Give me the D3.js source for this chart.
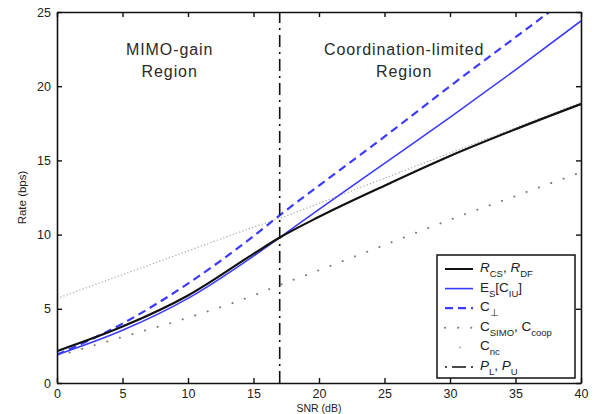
<!DOCTYPE html>
<html>
<head>
<meta charset="utf-8">
<script src="https://cdn.jsdelivr.net/npm/d3@7"></script>
<style>
  body { margin: 0; background: #fff; }
  svg { display: block; font-family: "Liberation Sans", Arial, sans-serif; }
</style>
</head>
<body>
<div id="chart"></div>
<script>
// DATA
const snr = [0, 5, 10, 15, 17, 20, 25, 30, 35, 40];
const rateCS = [2.15, 3.8, 5.9, 8.7, 9.8, 11.2, 13.3, 15.3, 17.1, 18.8];
const rateES = [1.9, 3.55, 5.7, 8.55, 9.8, 11.7, 14.8, 17.9, 21.1, 24.4];
const ratePerp = [1.9, 4.0, 6.7, 9.9, 11.3, 13.3, 16.6, 20.0, 23.3, 26.6];
const rateSimo = [1.8, 3.1, 4.4, 5.9, 6.6, 7.6, 9.3, 11.0, 12.6, 14.2];
const rateNc = [5.7, 7.3, 8.9, 10.5, 11.1, 12.1, 13.8, 15.5, 17.2, 18.9];
const boundarySnr = 17;
const xTicks = [0, 5, 10, 15, 20, 25, 30, 35, 40];
const yTicks = [0, 5, 10, 15, 20, 25];
const regionLabels = [["MIMO-gain", "Region"], ["Coordination-limited", "Region"]];

// GRAPH CONSTANTS
const w = 596;
const h = 414;
const padLeft = 57;
const padRight = 15;
const padTop = 12;
const padBottom = 31;
const blue = "#3b3bff";

// SCALES
const xScale = d3.scaleLinear().domain([0, 40]).range([padLeft, w - padRight]);
const yScale = d3.scaleLinear().domain([0, 25]).range([h - padBottom, padTop]);

const svg = d3.select('#chart')
    .append('svg')
    .attr('width', w)
    .attr('height', h);

svg.append('defs').append('clipPath')
    .attr('id', 'plot-clip')
    .append('rect')
    .attr('x', padLeft).attr('y', padTop)
    .attr('width', w - padLeft - padRight)
    .attr('height', h - padTop - padBottom);

// SERIES
const series = [
    { values: rateNc, stroke: '#a8a8a8', width: 1.2, dash: '1.2,2.2', cap: 'butt' },
    { values: rateSimo, stroke: '#7a7a7a', width: 2, dash: '0.1,13', cap: 'round' },
    { values: ratePerp, stroke: blue, width: 2.2, dash: '8,5', cap: 'butt' },
    { values: rateES, stroke: blue, width: 1.6, dash: null, cap: 'butt' },
    { values: rateCS, stroke: '#111', width: 2.2, dash: null, cap: 'butt' }
];

const line = d3.line()
    .x(d => xScale(d[0]))
    .y(d => yScale(d[1]))
    .curve(d3.curveMonotoneX);

const plot = svg.append('g').attr('clip-path', 'url(#plot-clip)');

plot.selectAll('path.series')
    .data(series)
    .enter()
    .append('path')
    .attr('class', 'series')
    .attr('d', s => line(snr.map((x, i) => [x, s.values[i]])))
    .attr('fill', 'none')
    .attr('stroke', s => s.stroke)
    .attr('stroke-width', s => s.width)
    .attr('stroke-dasharray', s => s.dash)
    .attr('stroke-linecap', s => s.cap);

// boundary between regions (dash-dot)
plot.append('line')
    .attr('x1', xScale(boundarySnr)).attr('x2', xScale(boundarySnr))
    .attr('y1', yScale(0)).attr('y2', yScale(25))
    .attr('stroke', '#111')
    .attr('stroke-width', 1.6)
    .attr('stroke-dasharray', '12,5,2,5');

// REGION TEXT
const regionX = [xScale(8.6), xScale(26.5)];
regionLabels.forEach((lines, k) => {
    lines.forEach((t, j) => {
        svg.append('text')
            .attr('x', regionX[k])
            .attr('y', 55 + j * 22)
            .attr('text-anchor', 'middle')
            .attr('font-size', '16px')
            .attr('letter-spacing', '0.9px')
            .attr('fill', '#2a2a2a')
            .text(t);
    });
});

// LEGEND
const legendItems = [
    { parts: [['R', 'i'], ['CS', 's'], [', ', 'n'], ['R', 'i'], ['DF', 's']], stroke: '#111', width: 2, dash: null },
    { parts: [['E', 'n'], ['S', 's'], ['[C', 'n'], ['IU', 's'], [']', 'n']], stroke: blue, width: 1.6, dash: null },
    { parts: [['C', 'n'], ['\u22A5', 's']], stroke: blue, width: 2.2, dash: '8,5' },
    { parts: [['C', 'n'], ['SIMO', 's'], [', C', 'n'], ['coop', 's']], stroke: '#7a7a7a', width: 2, dash: '0.1,13', cap: 'round' },
    { parts: [['C', 'n'], ['nc', 's']], stroke: '#b0b0b0', width: 2, dash: '0.1,30', cap: 'round', offset: -15 },
    { parts: [['P', 'i'], ['L', 's'], [', ', 'n'], ['P', 'i'], ['U', 's']], stroke: '#111', width: 1.6, dash: '2,5,14,5', cap: 'butt' }
];

const legend = svg.append('g').attr('class', 'legend');
legend.append('rect')
    .attr('x', 437).attr('y', 255)
    .attr('width', 138).attr('height', 123)
    .attr('fill', '#fff')
    .attr('stroke', '#111')
    .attr('stroke-width', 1.5);

legendItems.forEach((item, i) => {
    const ly = 269 + i * 19.6;
    legend.append('line')
        .attr('x1', 445).attr('x2', 473)
        .attr('y1', ly).attr('y2', ly)
        .attr('stroke', item.stroke)
        .attr('stroke-width', item.width)
        .attr('stroke-dasharray', item.dash)
        .attr('stroke-dashoffset', item.offset || 0)
        .attr('stroke-linecap', item.cap || 'butt');
    const txt = legend.append('text')
        .attr('x', 480)
        .attr('y', ly + 3)
        .attr('font-size', '13.5px')
        .attr('fill', '#222');
    item.parts.forEach(([t, kind], j) => {
        const prev = j > 0 ? item.parts[j - 1][1] : 'n';
        const ts = txt.append('tspan').text(t);
        if (kind === 'i') ts.attr('font-style', 'italic');
        if (kind === 's') ts.attr('font-size', '9.5px').attr('dy', 5);
        else if (prev === 's') ts.attr('dy', -5);
    });
});

// AXES
const xAxis = d3.axisBottom(xScale).tickValues(xTicks).tickSizeInner(-5).tickSizeOuter(0).tickPadding(6);
const yAxis = d3.axisLeft(yScale).tickValues(yTicks).tickSizeInner(-5).tickSizeOuter(0).tickPadding(6);
const xTop = d3.axisTop(xScale).tickValues(xTicks).tickSizeInner(-5).tickSizeOuter(0).tickFormat('');
const yRight = d3.axisRight(yScale).tickValues(yTicks).tickSizeInner(-5).tickSizeOuter(0).tickFormat('');

const axes = [
    [xAxis, `translate(0, ${h - padBottom})`],
    [yAxis, `translate(${padLeft}, 0)`],
    [xTop, `translate(0, ${padTop})`],
    [yRight, `translate(${w - padRight}, 0)`]
];
axes.forEach(([ax, tr]) => {
    const g = svg.append('g').attr('transform', tr).call(ax);
    g.select('.domain').attr('stroke', '#111').attr('stroke-width', 1.6);
    g.selectAll('.tick line').attr('stroke', '#111').attr('stroke-width', 1.4);
    g.selectAll('.tick text')
        .attr('font-size', '12.5px')
        .attr('font-family', '"Liberation Sans", Arial, sans-serif')
        .attr('fill', '#222');
});

// AXIS LABELS
svg.append('text')
    .attr('x', (padLeft + w - padRight) / 2)
    .attr('y', 411.5)
    .attr('text-anchor', 'middle')
    .attr('font-size', '10.5px')
    .attr('fill', '#222')
    .text('SNR (dB)');
svg.append('text')
    .attr('transform', `translate(26, ${(padTop + h - padBottom) / 2}) rotate(-90)`)
    .attr('text-anchor', 'middle')
    .attr('font-size', '11.5px')
    .attr('fill', '#222')
    .text('Rate (bps)');
</script>
</body>
</html>
